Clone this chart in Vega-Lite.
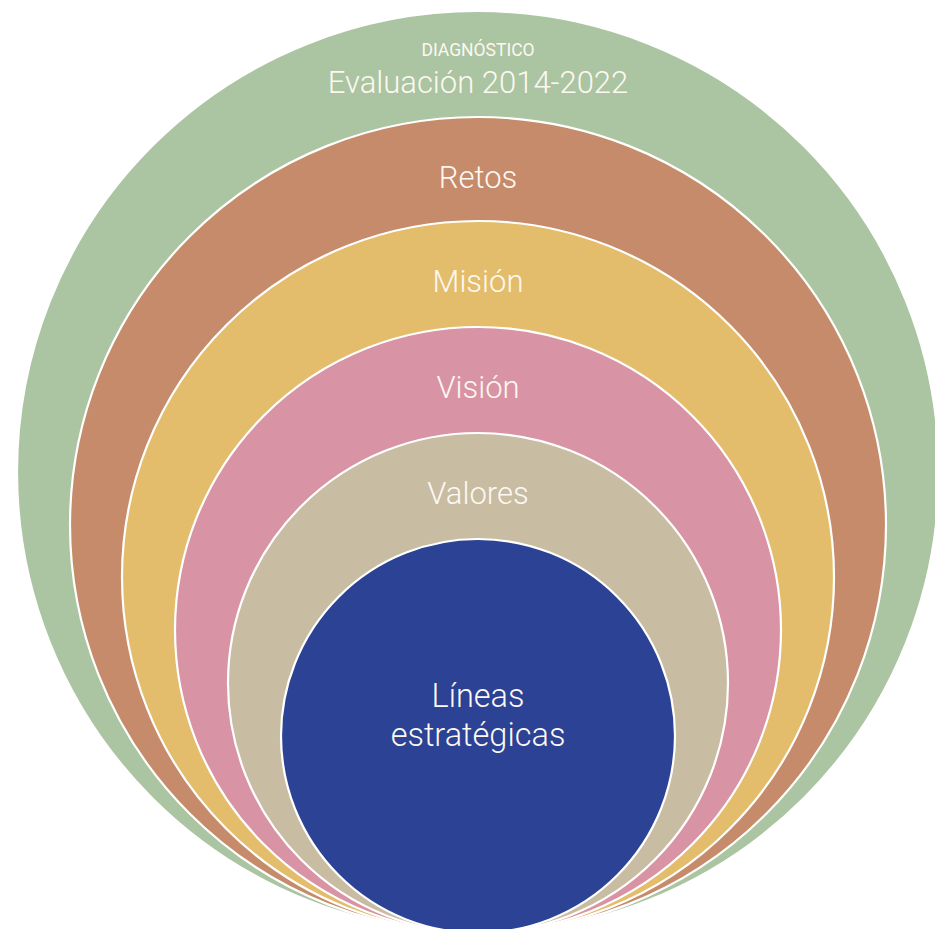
{
  "$schema": "https://vega.github.io/schema/vega-lite/v6.json",
  "autosize": {"type": "none"},
  "width": 935,
  "height": 929,
  "padding": 0,
  "background": "white",
  "config": {"view": {"stroke": null}},
  "data": {
    "values": [
      {"anillo": "Evaluación 2014-2022", "radio": 461, "tipo": "superior"},
      {"anillo": "Retos", "radio": 408, "tipo": "anillo"},
      {"anillo": "Misión", "radio": 356, "tipo": "anillo"},
      {"anillo": "Visión", "radio": 303, "tipo": "anillo"},
      {"anillo": "Valores", "radio": 250, "tipo": "anillo"},
      {"anillo": "Líneas estratégicas", "radio": 197, "tipo": "centro"}
    ]
  },
  "encoding": {
    "x": {"datum": 0, "type": "quantitative", "scale": {"domain": [-478, 457]}, "axis": null}
  },
  "layer": [
    {
      "mark": {"type": "point", "shape": "circle", "filled": true, "opacity": 1, "stroke": "white", "strokeWidth": 2.2, "strokeOpacity": 1},
      "encoding": {
        "y": {"field": "radio", "type": "quantitative", "scale": {"domain": [4, 933]}, "axis": null},
        "size": {"field": "radio", "type": "quantitative", "scale": {"type": "pow", "exponent": 2, "domain": [0, 461], "range": [0, 850084]}, "legend": null},
        "color": {
          "field": "anillo", "type": "nominal",
          "scale": {
            "domain": ["Evaluación 2014-2022", "Retos", "Misión", "Visión", "Valores", "Líneas estratégicas"],
            "range": ["#abc4a1", "#c68b6a", "#e3bd6b", "#d893a5", "#c8bca2", "#2b4295"]
          },
          "legend": null
        },
        "order": {"field": "radio", "type": "quantitative", "sort": "descending"}
      }
    },
    {
      "transform": [{"filter": "datum.tipo === 'anillo'"}],
      "mark": {"type": "text", "font": "Roboto", "fontWeight": 300, "fontSize": 31, "color": "#fdf8f2", "align": "center", "baseline": "alphabetic", "dy": -1},
      "encoding": {
        "y": {"field": "radio", "type": "quantitative", "scale": {"domain": [38, 502.5]}, "axis": null},
        "text": {"field": "anillo"}
      }
    },
    {
      "transform": [{"filter": "datum.tipo === 'superior'"}],
      "mark": {"type": "text", "font": "Roboto", "fontWeight": 300, "fontSize": 31, "color": "#fdf8f2", "align": "center", "baseline": "alphabetic", "dy": 10},
      "encoding": {
        "y": {"field": "radio", "type": "quantitative", "scale": {"domain": [38, 502.5]}, "axis": null},
        "text": {"field": "anillo"}
      }
    },
    {
      "transform": [{"filter": "datum.tipo === 'superior'"}],
      "mark": {"type": "text", "font": "Roboto", "fontWeight": 400, "fontSize": 17.5, "color": "#fdf8f2", "align": "center", "baseline": "alphabetic", "dy": -27},
      "encoding": {
        "y": {"field": "radio", "type": "quantitative", "scale": {"domain": [38, 502.5]}, "axis": null},
        "text": {"value": "DIAGNÓSTICO"}
      }
    },
    {
      "transform": [{"filter": "datum.tipo === 'centro'"}],
      "mark": {"type": "text", "font": "Roboto", "fontWeight": 300, "fontSize": 32.5, "color": "#fdf8f2", "align": "center", "baseline": "alphabetic", "lineBreak": " ", "lineHeight": 39, "dy": -29},
      "encoding": {
        "y": {"field": "radio", "type": "quantitative", "scale": {"domain": [4, 933]}, "axis": null},
        "text": {"field": "anillo"}
      }
    }
  ],
  "resolve": {"scale": {"y": "independent"}}
}
